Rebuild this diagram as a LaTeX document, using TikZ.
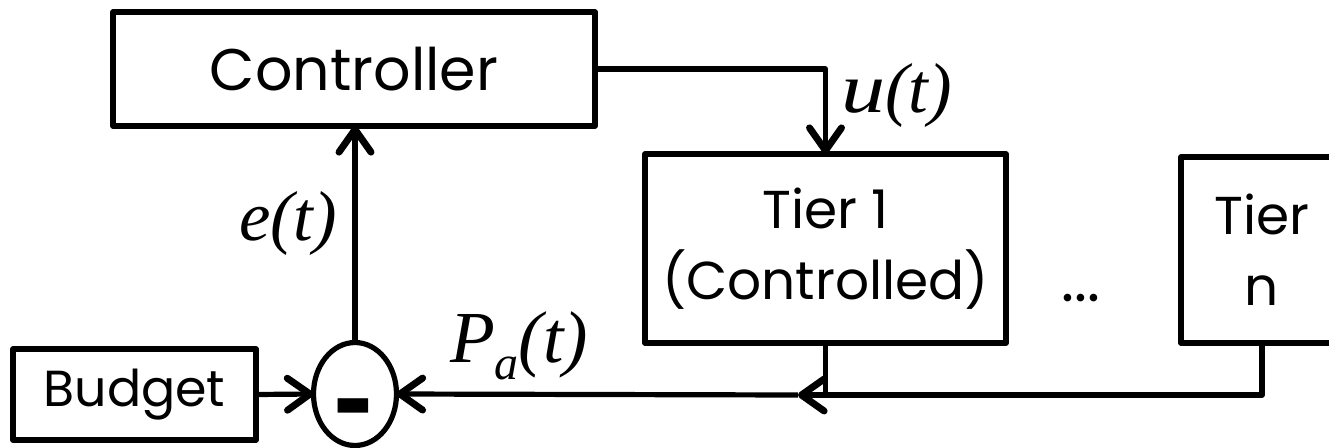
\documentclass[tikz,border=0pt]{standalone}
\usepackage{fontspec}
\setmainfont{Liberation Serif}
\newfontfamily\gothic{Poppins}
\usetikzlibrary{arrows.meta,shapes.geometric}

\begin{document}
\begin{tikzpicture}[x=0.75pt,y=-0.75pt,
  every node/.style={inner sep=0pt, outer sep=0pt},
  block/.style={draw, line width=3.9pt, line join=round, align=center,
    font=\gothic\fontsize{40}{53}\selectfont},
  link/.style={line width=3.9pt, line join=round},
  sig/.style={font=\itshape\fontsize{53}{53}\selectfont},
  >={Straight Barb[length=17pt,width=24pt,round,line width=5.2pt]}
]
\useasboundingbox (0,0) rectangle (1329,447);

% blocks of the loop
\node[block, font=\gothic\fontsize{44}{53}\selectfont,
      minimum width=361.5pt, minimum height=85.5pt] (ctrl) at (354,69) {Controller};
\node[block, minimum width=270.75pt, minimum height=141.75pt] (tier1) at (825.5,248.5)
     {Tier 1\\(Controlled)};
\node[block, minimum width=121.5pt, minimum height=139.5pt] (tiern) at (1262,250)
     {Tier\\n};
\node[block, font=\gothic\fontsize{38}{50}\selectfont,
      minimum width=182.25pt, minimum height=68.25pt] (budget) at (134.5,394.5) {Budget};
\node[draw, ellipse, line width=3.9pt,
      minimum width=62.25pt, minimum height=77.25pt] (sum) at (355,394) {};
% the minus sign, boxed tightly round its bar
\node[font=\gothic\bfseries\fontsize{40}{40}\selectfont] (minus) at (355,405)
     {\raisebox{-27pt}[4pt][4pt]{\scalebox{1.3}[1.9]{-}}};
\node[anchor=base, font=\gothic\fontsize{46}{46}\selectfont] (dots) at (1081,301) {...};

% signal labels
\node[sig, anchor=base west] (ulab) at (841,112) {\scalebox{1.25}[1]{u}(t)};
\node[sig, anchor=base west] (elab) at (239,240) {e(t)};
\node[sig, font=\itshape\fontsize{55}{55}\selectfont, anchor=base west] (plab) at (450,362)
     {P\raisebox{-13pt}{\fontsize{36}{36}\selectfont a}(t)};

% connectors
\coordinate (merge) at (798,395);
\draw[link,->] (ctrl.east) -| (tier1.north);
\draw[link,->] (sum.north) -- (sum.north |- ctrl.south);
\draw[link,->] (budget.east) -- (sum.west);
\draw[link,->] (tiern.south) |- (merge);
\draw[link] (tier1.south) -- (tier1.south |- merge);
\draw[link,->] (merge) -- (sum.east);
\end{tikzpicture}
\end{document}
